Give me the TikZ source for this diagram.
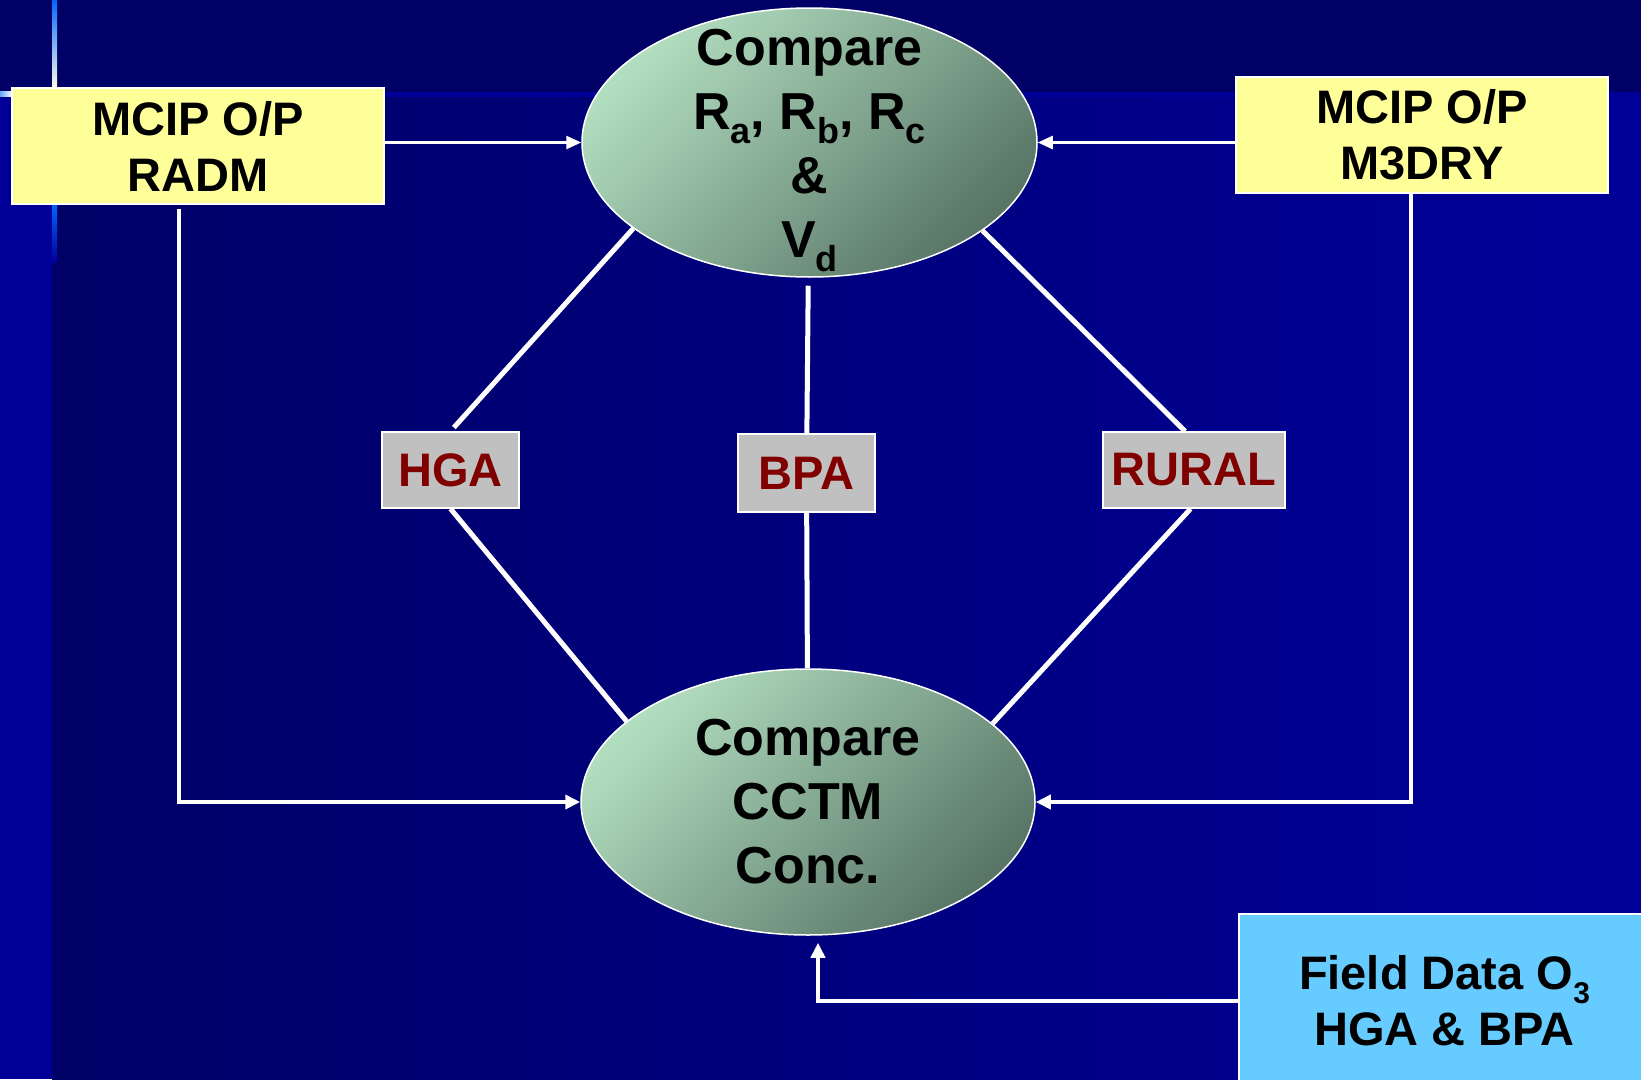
\documentclass[tikz,border=0pt]{standalone}
\usepackage{fontspec}
\setmainfont{Liberation Sans}
\usetikzlibrary{shapes.geometric,arrows.meta}

\definecolor{bandblue}{HTML}{000066}
\definecolor{deepblue}{HTML}{000099}
\definecolor{notepad}{HTML}{FFFF99}
\definecolor{sitegray}{HTML}{C0C0C0}
\definecolor{sitered}{HTML}{800000}
\definecolor{fieldblue}{HTML}{66CCFF}
\definecolor{mintlight}{HTML}{B2DEC0}
\definecolor{mintdark}{HTML}{587566}
\definecolor{glowblue}{HTML}{0066FF}

\newcommand{\lowsub}[2][36]{\raisebox{-14pt}{\fontsize{#1}{#1}\selectfont #2}}

\tikzset{
  inbox/.style={draw=white, line width=1.5pt, fill=notepad, minimum width=372pt, minimum height=116pt, inner sep=0pt, align=center, font=\fontsize{47}{56}\selectfont\bfseries},
  site/.style={draw=white, line width=1.5pt, fill=sitegray, text=sitered, minimum height=76pt, inner sep=0pt, font=\fontsize{47}{56}\selectfont\bfseries},
  compare/.style={ellipse, draw=white, line width=1.5pt, top color=mintlight, bottom color=mintdark, shading angle=45, inner sep=0pt},
  inside/.style={align=center, text=black, font=\fontsize{52}{64}\selectfont\bfseries},
  wire/.style={draw=white, line width=5pt},
  feed/.style={draw=white, line width=2.5pt, -{Triangle[length=15pt,width=13pt]}},
  bigfeed/.style={draw=white, line width=4.5pt, -{Triangle[length=15pt,width=14pt]}},
  elbow/.style={to path={|- (\tikztotarget)}},
}

\begin{document}
\begin{tikzpicture}[x=1pt, y=-1pt]
  \useasboundingbox (0,0) rectangle (1641,1079);
  % backdrop
  \fill[bandblue] (0,0) rectangle (1641,92);
  \shade[left color=bandblue, right color=deepblue] (52,92) rectangle (1641,1079);
  \fill[deepblue] (0,92) rectangle (52,1079);
  \fill[deepblue] (52,92) rectangle (1641,97);
  \shade[top color=glowblue, bottom color=white!90!yellow] (52,0) rectangle (57,88);
  \shade[top color=glowblue, bottom color=deepblue] (52,204) rectangle (57,262);
  \shade[left color=glowblue!60!white, right color=white] (0,91) rectangle (12,96);

  \node[inbox] (radm) at (198,146) {MCIP O/P\\RADM};
  \node[inbox] (m3dry) at (1422,135) {MCIP O/P\\M3DRY};
  \node[compare, minimum width=455pt, minimum height=269pt,
        label={[inside, yshift=-8pt]center:{Compare\\R\lowsub{a}, R\lowsub{b}, R\lowsub{c}\\\&\\V\lowsub{d}}}] (cmpr) at (809.5,142.5) {};
  \node[compare, minimum width=454pt, minimum height=266pt,
        label={[inside]center:{Compare\\CCTM\\Conc.}}] (cctm) at (808,802) {};
  \node[site, minimum width=137pt] (hga) at (450.5,470) {HGA};
  \node[site, minimum width=137pt, minimum height=78pt] (bpa) at (806.5,473) {BPA};
  \node[site, minimum width=182pt] (rural) at (1194,470) {RURAL};
  \node[inbox, fill=fieldblue, minimum width=411pt, minimum height=174pt] (field) at (1444.5,1001) {Field Data O\lowsub[30]{3}\\HGA \& BPA};

  \path[every edge/.append style=wire]
    (hga.north) edge[shorten <=5pt] (cmpr.206)
    (hga.south) edge (cctm.156)
    (rural.103) edge (cmpr.333)
    (rural.265) edge (cctm.23)
    (bpa) edge[shorten >=8pt] (cmpr)
    (bpa) edge (cctm);
  \path[every edge/.append style=feed]
    (cmpr.west -| radm.east) edge (cmpr.west)
    (cmpr.east -| m3dry.west) edge (cmpr.east);
  \path[every edge/.append style=bigfeed]
    ([xshift=-19pt]radm.south) edge[elbow, shorten <=4pt] (cctm.west)
    ([xshift=-11pt]m3dry.south) edge[elbow] (cctm.east)
    (field.west) edge[to path={-| (\tikztotarget)}, shorten >=7pt] ([xshift=10pt]cctm.south);
\end{tikzpicture}
\end{document}
